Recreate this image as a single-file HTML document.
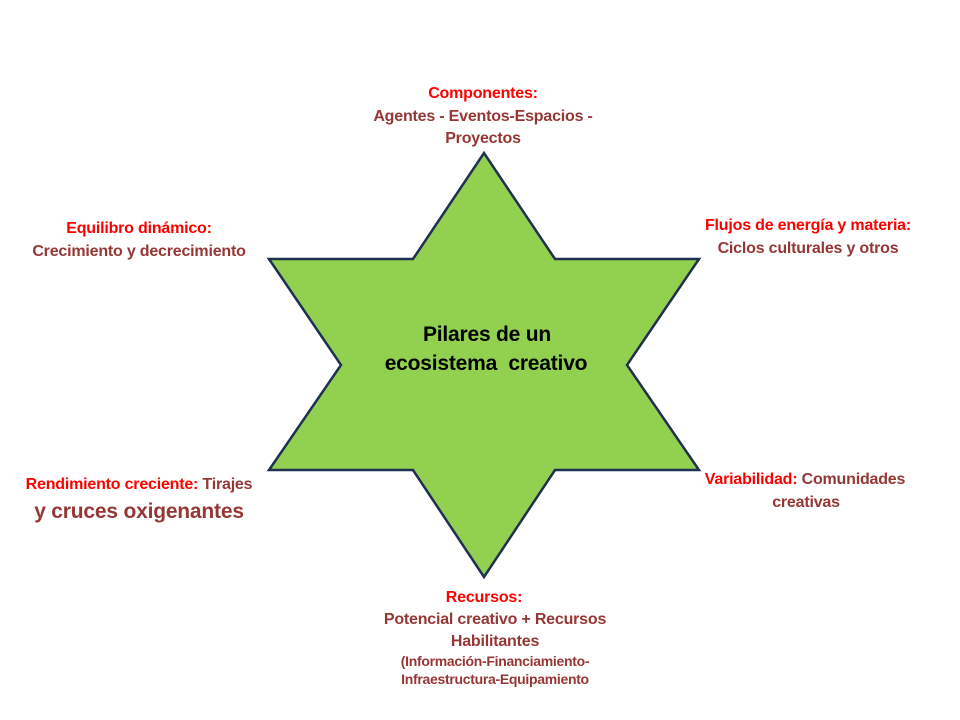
<!DOCTYPE html>
<html><head><meta charset="utf-8"><style>
body{margin:0;width:960px;height:720px;background:#fff;position:relative;overflow:hidden;font-family:"Liberation Sans",sans-serif;font-weight:bold}
.l{position:absolute;white-space:nowrap;transform:translateX(-50%);font-size:16px;line-height:18px;letter-spacing:-0.2px;color:#953735}
.r{color:#ff0000}
</style></head><body>
<svg width="960" height="720" style="position:absolute;left:0;top:0">
<polygon points="484,153 555,259 699,259 627,365 699,470 555,470 484,577 413,470 269,470 341,365 269,259 413,259" fill="#92D050" stroke="#1F3050" stroke-width="2.5" stroke-linejoin="miter"/>
</svg>
<div class="l" style="left:487px;top:323px;color:#000;font-size:21px;line-height:24px">Pilares de un</div>
<div class="l" style="left:486px;top:352px;color:#000;font-size:21px;line-height:24px">ecosistema&nbsp; creativo</div>

<div class="l r" style="left:483px;top:85px">Componentes:</div>
<div class="l" style="left:483px;top:108px">Agentes - Eventos-Espacios -</div>
<div class="l" style="left:483px;top:130px">Proyectos</div>

<div class="l r" style="left:139px;top:220px">Equilibro dinámico:</div>
<div class="l" style="left:139px;top:243px">Crecimiento y decrecimiento</div>

<div class="l r" style="left:808px;top:217px">Flujos de energía y materia:</div>
<div class="l" style="left:808px;top:240px">Ciclos culturales y otros</div>

<div class="l" style="left:139px;top:476px"><span class="r">Rendimiento creciente:</span> Tirajes</div>
<div class="l" style="left:139px;top:500px;font-size:21px;line-height:24px">y cruces oxigenantes</div>

<div class="l" style="left:805px;top:471px"><span class="r">Variabilidad:</span> Comunidades</div>
<div class="l" style="left:806px;top:494px">creativas</div>

<div class="l r" style="left:484px;top:589px">Recursos:</div>
<div class="l" style="left:495px;top:611px">Potencial creativo + Recursos</div>
<div class="l" style="left:495px;top:633px">Habilitantes</div>
<div class="l" style="left:495px;top:653px;font-size:14px;line-height:16px;letter-spacing:-0.3px">(Información-Financiamiento-</div>
<div class="l" style="left:495px;top:671px;font-size:14px;line-height:16px;letter-spacing:-0.3px">Infraestructura-Equipamiento</div>
</body></html>
